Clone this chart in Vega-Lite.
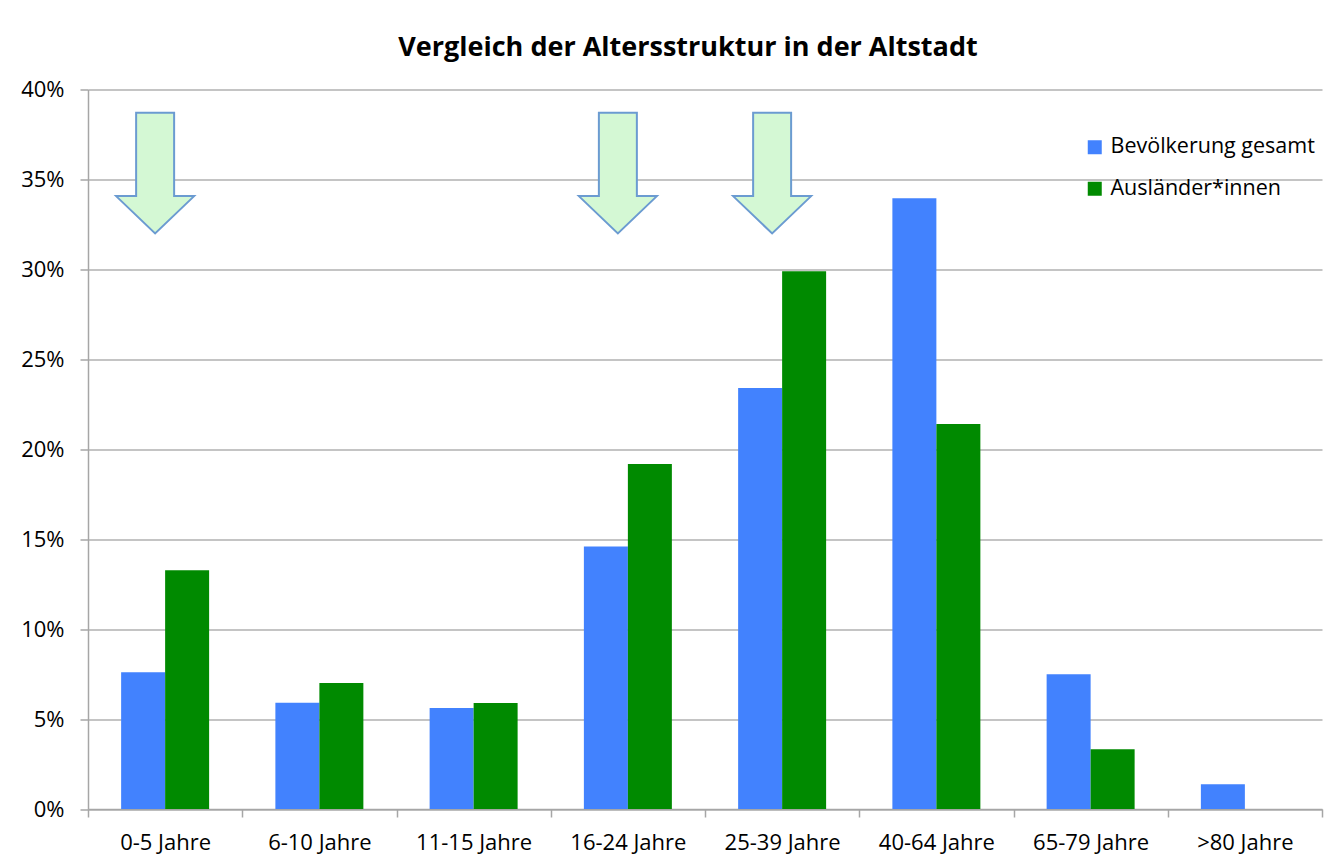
{
  "$schema": "https://vega.github.io/schema/vega-lite/v6.json",
  "width": 1234,
  "height": 719.5,
  "autosize": {"type": "none"},
  "padding": {"left": 88, "top": 89.5, "right": 7, "bottom": 56},
  "background": "white",
  "config": {"view": {"stroke": null}, "font": "Open Sans"},
  "title": {
    "text": "Vergleich der Altersstruktur in der Altstadt",
    "fontSize": 27,
    "fontWeight": "bold",
    "font": "Open Sans",
    "color": "#000000",
    "anchor": "middle",
    "dx": -17,
    "offset": 17
  },
  "datasets": {
    "bars": [
      {"Altersgruppe": "0-5 Jahre", "Gruppe": "Bevölkerung gesamt", "Anteil": 7.6},
      {"Altersgruppe": "0-5 Jahre", "Gruppe": "Ausländer*innen", "Anteil": 13.28},
      {"Altersgruppe": "6-10 Jahre", "Gruppe": "Bevölkerung gesamt", "Anteil": 5.91},
      {"Altersgruppe": "6-10 Jahre", "Gruppe": "Ausländer*innen", "Anteil": 7.0},
      {"Altersgruppe": "11-15 Jahre", "Gruppe": "Bevölkerung gesamt", "Anteil": 5.61},
      {"Altersgruppe": "11-15 Jahre", "Gruppe": "Ausländer*innen", "Anteil": 5.89},
      {"Altersgruppe": "16-24 Jahre", "Gruppe": "Bevölkerung gesamt", "Anteil": 14.6},
      {"Altersgruppe": "16-24 Jahre", "Gruppe": "Ausländer*innen", "Anteil": 19.18},
      {"Altersgruppe": "25-39 Jahre", "Gruppe": "Bevölkerung gesamt", "Anteil": 23.4},
      {"Altersgruppe": "25-39 Jahre", "Gruppe": "Ausländer*innen", "Anteil": 29.9},
      {"Altersgruppe": "40-64 Jahre", "Gruppe": "Bevölkerung gesamt", "Anteil": 33.96},
      {"Altersgruppe": "40-64 Jahre", "Gruppe": "Ausländer*innen", "Anteil": 21.4},
      {"Altersgruppe": "65-79 Jahre", "Gruppe": "Bevölkerung gesamt", "Anteil": 7.49},
      {"Altersgruppe": "65-79 Jahre", "Gruppe": "Ausländer*innen", "Anteil": 3.32},
      {"Altersgruppe": ">80 Jahre", "Gruppe": "Bevölkerung gesamt", "Anteil": 1.37},
      {"Altersgruppe": ">80 Jahre", "Gruppe": "Ausländer*innen", "Anteil": 0}
    ],
    "pfeile": [
      {"Altersgruppe": "0-5 Jahre", "Anteil": 35.35},
      {"Altersgruppe": "16-24 Jahre", "Anteil": 35.35},
      {"Altersgruppe": "25-39 Jahre", "Anteil": 35.35}
    ]
  },
  "layer": [
    {
      "data": {"name": "bars"},
      "mark": {"type": "bar"},
      "encoding": {
        "x": {
          "field": "Altersgruppe",
          "type": "nominal",
          "sort": ["0-5 Jahre", "6-10 Jahre", "11-15 Jahre", "16-24 Jahre", "25-39 Jahre", "40-64 Jahre", "65-79 Jahre", ">80 Jahre"],
          "scale": {"paddingInner": 0, "paddingOuter": 0},
          "axis": {
            "title": null,
            "labelAngle": 0,
            "labelFontSize": 22,
            "labelColor": "#000000",
            "labelPadding": 15,
            "labelLimit": 0,
            "tickBand": "extent",
            "tickSize": 8,
            "tickColor": "#a6a6a6",
            "domainColor": "#a6a6a6",
            "domainWidth": 1.5,
            "tickWidth": 1.5,
            "grid": false
          }
        },
        "xOffset": {
          "field": "Gruppe",
          "type": "nominal",
          "sort": ["Bevölkerung gesamt", "Ausländer*innen"],
          "scale": {"paddingInner": 0, "paddingOuter": 0.753}
        },
        "y": {
          "field": "Anteil",
          "type": "quantitative",
          "scale": {"domain": [0, 40]},
          "axis": {
            "title": null,
            "values": [0, 5, 10, 15, 20, 25, 30, 35, 40],
            "labelExpr": "datum.value + '%'",
            "labelFontSize": 22,
            "labelColor": "#000000",
            "labelPadding": 16,
            "tickSize": 8,
            "tickColor": "#a6a6a6",
            "tickWidth": 1.5,
            "domainColor": "#a6a6a6",
            "domainWidth": 1.5,
            "gridColor": "#b0b0b0",
            "gridWidth": 1.5
          }
        },
        "color": {
          "field": "Gruppe",
          "type": "nominal",
          "sort": ["Bevölkerung gesamt", "Ausländer*innen"],
          "scale": {"domain": ["Bevölkerung gesamt", "Ausländer*innen"], "range": ["#4282FE", "#008A00"]},
          "legend": {
            "title": null,
            "orient": "none",
            "legendX": 996,
            "legendY": 47,
            "symbolType": "square",
            "symbolSize": 196,
            "symbolStrokeWidth": 0,
            "labelFontSize": 21.5,
            "labelLimit": 0,
            "labelColor": "#000000",
            "labelOffset": 5,
            "rowPadding": 18.5
          }
        }
      }
    },
    {
      "data": {"name": "pfeile"},
      "mark": {
        "type": "point",
        "shape": "M-0.315,-1L0.315,-1L0.315,0.381L0.647,0.381L0,1L-0.647,0.381L-0.315,0.381Z",
        "size": 14544,
        "filled": true,
        "fill": "#D4F8D4",
        "stroke": "#6B9BD1",
        "strokeWidth": 2,
        "opacity": 1,
        "xOffset": -10
      },
      "encoding": {
        "x": {
          "field": "Altersgruppe",
          "type": "nominal",
          "sort": ["0-5 Jahre", "6-10 Jahre", "11-15 Jahre", "16-24 Jahre", "25-39 Jahre", "40-64 Jahre", "65-79 Jahre", ">80 Jahre"]
        },
        "y": {"field": "Anteil", "type": "quantitative"}
      }
    }
  ]
}
